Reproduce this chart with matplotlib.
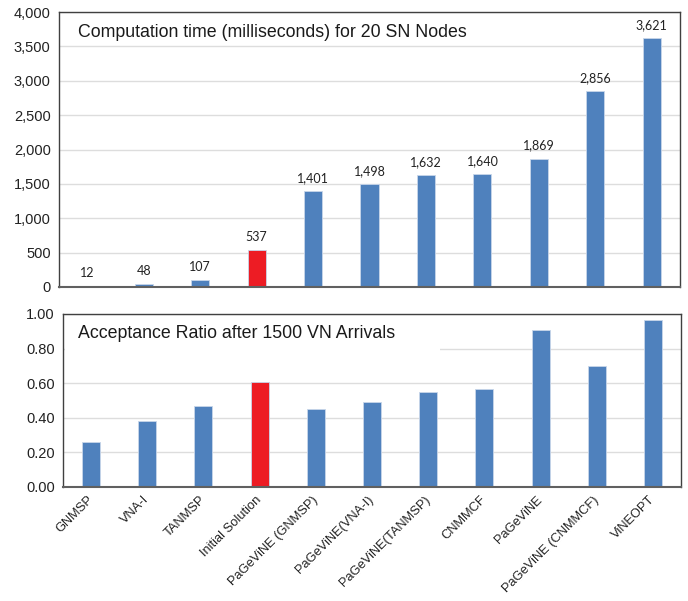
import matplotlib
matplotlib.use("Agg")
import matplotlib.pyplot as plt
from matplotlib.patches import Rectangle
import numpy as np

categories = ["GNMSP", "VNA-I", "TANMSP", "Initial Solution", "PaGeViNE (GNMSP)",
              "PaGeViNE(VNA-I)", "PaGeViNE(TANMSP)", "CNMMCF", "PaGeViNE",
              "PaGeViNE (CNMMCF)", "ViNEOPT"]
comp_time = [12, 48, 107, 537, 1401, 1498, 1632, 1640, 1869, 2856, 3621]
acceptance = [0.26, 0.38, 0.47, 0.607, 0.45, 0.49, 0.55, 0.565, 0.906, 0.698, 0.965]
highlight = "Initial Solution"

blue = "#4F81BD"
red = "#ED1C24"
colors = [red if c == highlight else blue for c in categories]

plt.rcParams['font.family'] = ['Liberation Sans', 'DejaVu Sans']

fig = plt.figure(figsize=(6.88, 6.01), dpi=100)
W, H = 688, 601
ax1 = fig.add_axes([59 / W, 1 - 287 / H, (680 - 59) / W, (287 - 12) / H])
ax2 = fig.add_axes([63 / W, 1 - 487 / H, (681 - 63) / W, (487 - 314) / H])

x = np.arange(len(categories))

for ax in (ax1, ax2):
    for s in ax.spines.values():
        s.set_color("#404040")
        s.set_linewidth(1.0)
    ax.spines['bottom'].set_color("#606060")
    ax.spines['bottom'].set_linewidth(1.5)
    ax.tick_params(axis='y', length=0, labelsize=10.5, colors="#222222", pad=6)
    ax.grid(axis='y', color="#DDDDDD", linewidth=1.0)
    ax.set_axisbelow(True)
    ax.set_xlim(-0.5, len(categories) - 0.5)

# Top chart
ax1.bar(x, comp_time, width=0.32, color=colors, edgecolor="#C8D6EA", linewidth=0.6)
ax1.set_ylim(0, 4000)
ax1.set_yticks(np.arange(0, 4001, 500))
ax1.set_yticklabels([f"{v:,}" for v in range(0, 4001, 500)])
ax1.set_xticks(x)
ax1.tick_params(axis='x', length=0, labelbottom=False)
for xi, v in zip(x, comp_time):
    ax1.annotate(f"{v:,}", (xi, v), xytext=(0, 5), textcoords="offset points",
                 ha='center', va='bottom', fontsize=9, family=['Lato', 'DejaVu Sans'],
                 color="#222222")
ax1.text(0.03, 0.955, "Computation time (milliseconds) for 20 SN Nodes",
         transform=ax1.transAxes, ha='left', va='top', fontsize=12.8, color="#1a1a1a")

# Bottom chart
ax2.bar(x, acceptance, width=0.32, color=colors, edgecolor="#C8D6EA", linewidth=0.6)
ax2.set_ylim(0, 1.0)
ax2.set_yticks(np.arange(0, 1.01, 0.2))
ax2.set_yticklabels([f"{v:.2f}" for v in np.arange(0, 1.01, 0.2)])
ax2.set_xticks(x)
ax2.set_xticklabels(categories, rotation=45, ha='right', va='center',
                    rotation_mode='anchor', fontsize=9.3, color="#222222")
ax2.tick_params(axis='x', length=0, pad=8)
ax2.add_patch(Rectangle((0.003, 0.72), 0.607, 0.27, transform=ax2.transAxes,
                        facecolor='white', edgecolor='none', zorder=1.5))
ax2.text(0.025, 0.935, "Acceptance Ratio after 1500 VN Arrivals",
         transform=ax2.transAxes, ha='left', va='top', fontsize=12.8, color="#1a1a1a",
         zorder=3)

fig.savefig("out.png", dpi=100)
